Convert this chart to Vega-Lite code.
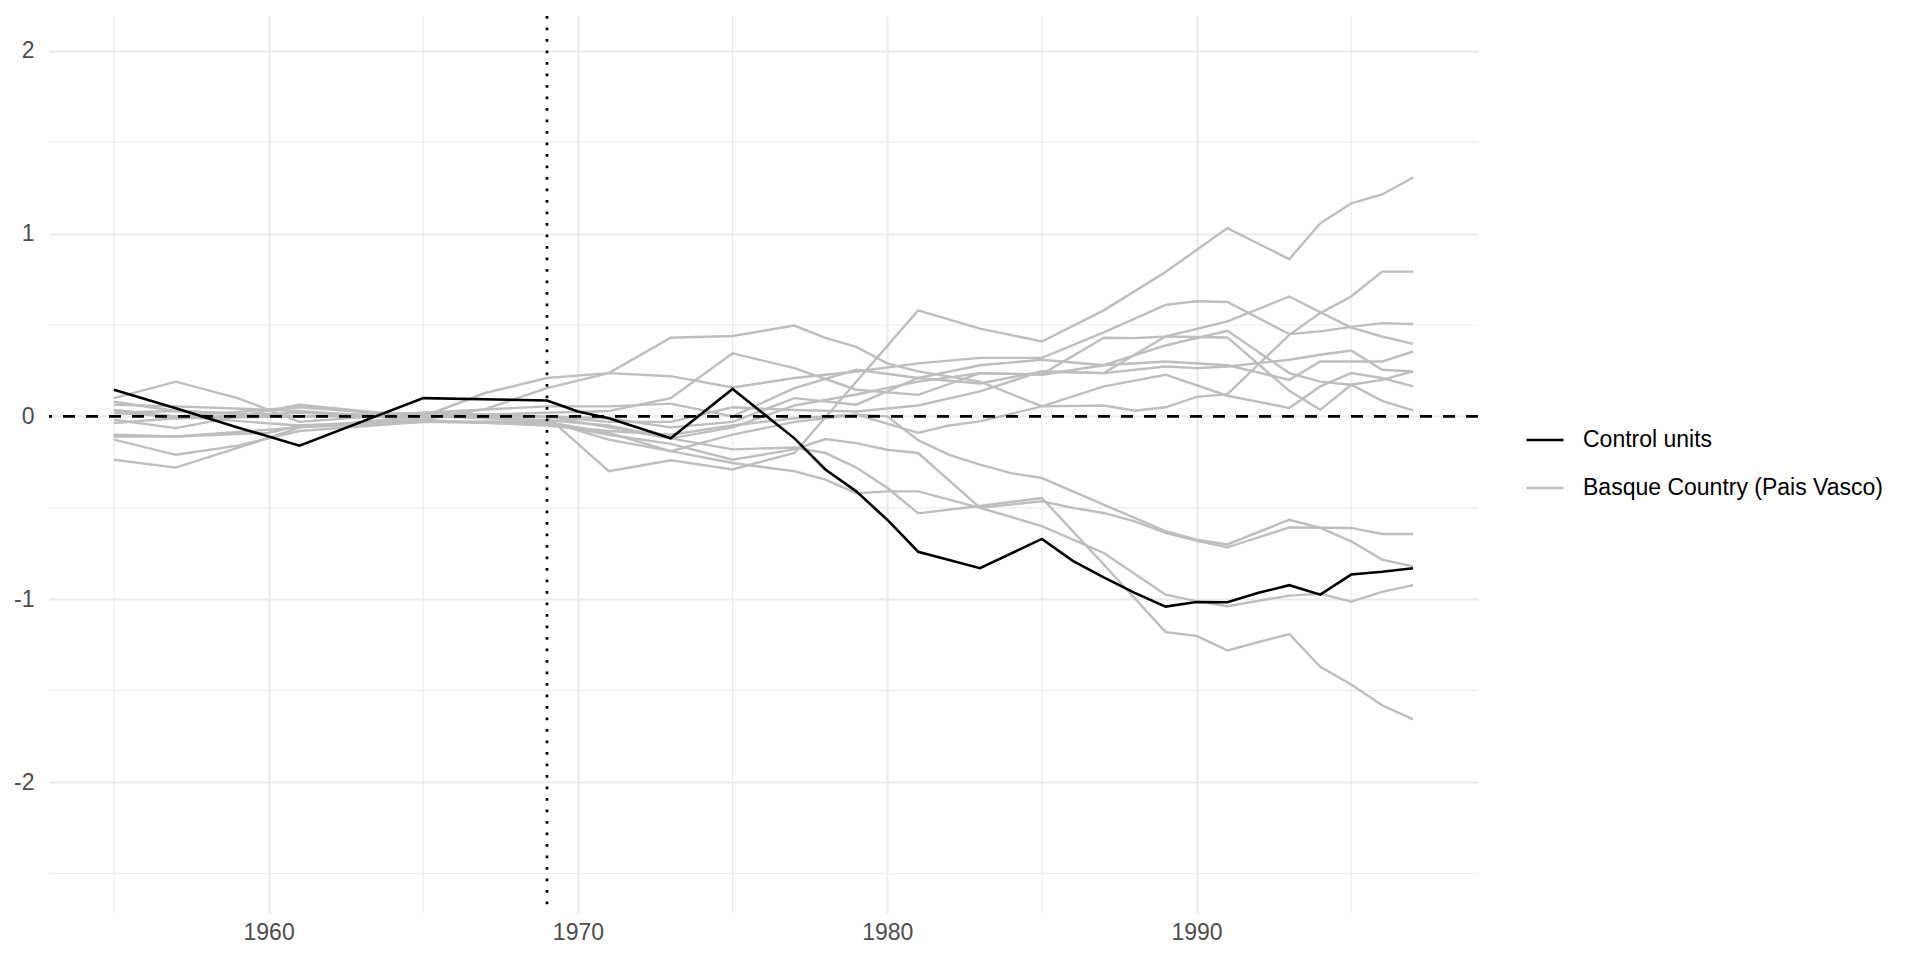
{
  "$schema": "https://vega.github.io/schema/vega-lite/v6.json",
  "width": 1429,
  "height": 897,
  "padding": {"left": 5, "top": 14, "right": 5, "bottom": 5},
  "background": "white",
  "config": {"view": {"stroke": null}, "font": "Liberation Sans"},
  "datasets": {
    "units": [
      {"unit": "Black", "group": "Control units"},
      {"unit": "A", "group": "Basque Country (Pais Vasco)"},
      {"unit": "U1", "group": "Basque Country (Pais Vasco)"},
      {"unit": "U2", "group": "Basque Country (Pais Vasco)"},
      {"unit": "U3", "group": "Basque Country (Pais Vasco)"},
      {"unit": "U4", "group": "Basque Country (Pais Vasco)"},
      {"unit": "U5", "group": "Basque Country (Pais Vasco)"},
      {"unit": "U6", "group": "Basque Country (Pais Vasco)"},
      {"unit": "U7", "group": "Basque Country (Pais Vasco)"},
      {"unit": "U8", "group": "Basque Country (Pais Vasco)"},
      {"unit": "X1", "group": "Basque Country (Pais Vasco)"},
      {"unit": "X2", "group": "Basque Country (Pais Vasco)"},
      {"unit": "X3", "group": "Basque Country (Pais Vasco)"},
      {"unit": "X4", "group": "Basque Country (Pais Vasco)"}
    ],
    "gridx": [{"year": 1955}, {"year": 1965}, {"year": 1975}, {"year": 1985}, {"year": 1995}],
    "gridy": [{"gap": -2.5}, {"gap": -1.5}, {"gap": -0.5}, {"gap": 0.5}, {"gap": 1.5}],
    "gaps": [
      {"unit": "A", "year": 1955, "gap": 0.02}, {"unit": "A", "year": 1957, "gap": 0.03}, {"unit": "A", "year": 1961, "gap": 0.0}, {"unit": "A", "year": 1965, "gap": 0.0}, {"unit": "A", "year": 1969, "gap": 0.0}, {"unit": "A", "year": 1971, "gap": -0.30}, {"unit": "A", "year": 1972, "gap": -0.27}, {"unit": "A", "year": 1973, "gap": -0.24}, {"unit": "A", "year": 1975, "gap": -0.29}, {"unit": "A", "year": 1977, "gap": -0.2}, {"unit": "A", "year": 1981, "gap": 0.58}, {"unit": "A", "year": 1983, "gap": 0.48}, {"unit": "A", "year": 1985, "gap": 0.41}, {"unit": "A", "year": 1987, "gap": 0.58}, {"unit": "A", "year": 1989, "gap": 0.79}, {"unit": "A", "year": 1991, "gap": 1.03}, {"unit": "A", "year": 1993, "gap": 0.86}, {"unit": "A", "year": 1994, "gap": 1.056}, {"unit": "A", "year": 1995, "gap": 1.165}, {"unit": "A", "year": 1996, "gap": 1.214}, {"unit": "A", "year": 1997, "gap": 1.307},
      {"unit": "U1", "year": 1955, "gap": 0.064}, {"unit": "U1", "year": 1957, "gap": 0.055}, {"unit": "U1", "year": 1961, "gap": 0.03}, {"unit": "U1", "year": 1965, "gap": -0.018}, {"unit": "U1", "year": 1967, "gap": 0.04}, {"unit": "U1", "year": 1969, "gap": 0.155}, {"unit": "U1", "year": 1971, "gap": 0.237}, {"unit": "U1", "year": 1973, "gap": 0.43}, {"unit": "U1", "year": 1975, "gap": 0.44}, {"unit": "U1", "year": 1977, "gap": 0.497}, {"unit": "U1", "year": 1978, "gap": 0.43}, {"unit": "U1", "year": 1979, "gap": 0.38}, {"unit": "U1", "year": 1980, "gap": 0.29}, {"unit": "U1", "year": 1981, "gap": 0.246}, {"unit": "U1", "year": 1983, "gap": 0.19}, {"unit": "U1", "year": 1985, "gap": 0.055}, {"unit": "U1", "year": 1987, "gap": 0.06}, {"unit": "U1", "year": 1988, "gap": 0.031}, {"unit": "U1", "year": 1989, "gap": 0.05}, {"unit": "U1", "year": 1990, "gap": 0.107}, {"unit": "U1", "year": 1991, "gap": 0.122}, {"unit": "U1", "year": 1993, "gap": 0.446}, {"unit": "U1", "year": 1994, "gap": 0.565}, {"unit": "U1", "year": 1995, "gap": 0.656}, {"unit": "U1", "year": 1996, "gap": 0.792}, {"unit": "U1", "year": 1997, "gap": 0.792},
      {"unit": "U2", "year": 1955, "gap": 0.036}, {"unit": "U2", "year": 1957, "gap": 0.0}, {"unit": "U2", "year": 1961, "gap": 0.05}, {"unit": "U2", "year": 1965, "gap": 0.0}, {"unit": "U2", "year": 1967, "gap": 0.128}, {"unit": "U2", "year": 1969, "gap": 0.21}, {"unit": "U2", "year": 1971, "gap": 0.237}, {"unit": "U2", "year": 1973, "gap": 0.22}, {"unit": "U2", "year": 1975, "gap": 0.158}, {"unit": "U2", "year": 1977, "gap": 0.21}, {"unit": "U2", "year": 1979, "gap": 0.246}, {"unit": "U2", "year": 1981, "gap": 0.29}, {"unit": "U2", "year": 1983, "gap": 0.32}, {"unit": "U2", "year": 1985, "gap": 0.32}, {"unit": "U2", "year": 1987, "gap": 0.46}, {"unit": "U2", "year": 1989, "gap": 0.61}, {"unit": "U2", "year": 1990, "gap": 0.63}, {"unit": "U2", "year": 1991, "gap": 0.626}, {"unit": "U2", "year": 1993, "gap": 0.45}, {"unit": "U2", "year": 1994, "gap": 0.465}, {"unit": "U2", "year": 1995, "gap": 0.49}, {"unit": "U2", "year": 1996, "gap": 0.51}, {"unit": "U2", "year": 1997, "gap": 0.505},
      {"unit": "U3", "year": 1955, "gap": -0.018}, {"unit": "U3", "year": 1957, "gap": -0.064}, {"unit": "U3", "year": 1961, "gap": 0.064}, {"unit": "U3", "year": 1963, "gap": 0.03}, {"unit": "U3", "year": 1965, "gap": 0.0}, {"unit": "U3", "year": 1969, "gap": 0.02}, {"unit": "U3", "year": 1971, "gap": 0.03}, {"unit": "U3", "year": 1973, "gap": 0.1}, {"unit": "U3", "year": 1975, "gap": 0.345}, {"unit": "U3", "year": 1977, "gap": 0.264}, {"unit": "U3", "year": 1979, "gap": 0.146}, {"unit": "U3", "year": 1981, "gap": 0.118}, {"unit": "U3", "year": 1983, "gap": 0.237}, {"unit": "U3", "year": 1985, "gap": 0.23}, {"unit": "U3", "year": 1987, "gap": 0.43}, {"unit": "U3", "year": 1988, "gap": 0.428}, {"unit": "U3", "year": 1989, "gap": 0.437}, {"unit": "U3", "year": 1991, "gap": 0.52}, {"unit": "U3", "year": 1993, "gap": 0.656}, {"unit": "U3", "year": 1994, "gap": 0.57}, {"unit": "U3", "year": 1995, "gap": 0.486}, {"unit": "U3", "year": 1996, "gap": 0.437}, {"unit": "U3", "year": 1997, "gap": 0.397},
      {"unit": "U4", "year": 1955, "gap": 0.08}, {"unit": "U4", "year": 1957, "gap": 0.03}, {"unit": "U4", "year": 1961, "gap": 0.0}, {"unit": "U4", "year": 1965, "gap": 0.02}, {"unit": "U4", "year": 1969, "gap": 0.055}, {"unit": "U4", "year": 1971, "gap": 0.055}, {"unit": "U4", "year": 1973, "gap": 0.07}, {"unit": "U4", "year": 1975, "gap": 0.0}, {"unit": "U4", "year": 1977, "gap": 0.155}, {"unit": "U4", "year": 1979, "gap": 0.255}, {"unit": "U4", "year": 1981, "gap": 0.21}, {"unit": "U4", "year": 1983, "gap": 0.28}, {"unit": "U4", "year": 1985, "gap": 0.31}, {"unit": "U4", "year": 1987, "gap": 0.28}, {"unit": "U4", "year": 1989, "gap": 0.388}, {"unit": "U4", "year": 1991, "gap": 0.468}, {"unit": "U4", "year": 1993, "gap": 0.237}, {"unit": "U4", "year": 1994, "gap": 0.19}, {"unit": "U4", "year": 1995, "gap": 0.173}, {"unit": "U4", "year": 1996, "gap": 0.2}, {"unit": "U4", "year": 1997, "gap": 0.246},
      {"unit": "U5", "year": 1955, "gap": 0.1}, {"unit": "U5", "year": 1957, "gap": 0.19}, {"unit": "U5", "year": 1959, "gap": 0.1}, {"unit": "U5", "year": 1960, "gap": 0.036}, {"unit": "U5", "year": 1961, "gap": -0.03}, {"unit": "U5", "year": 1965, "gap": 0.02}, {"unit": "U5", "year": 1969, "gap": 0.0}, {"unit": "U5", "year": 1971, "gap": -0.01}, {"unit": "U5", "year": 1973, "gap": -0.06}, {"unit": "U5", "year": 1975, "gap": -0.03}, {"unit": "U5", "year": 1977, "gap": 0.1}, {"unit": "U5", "year": 1979, "gap": 0.064}, {"unit": "U5", "year": 1981, "gap": 0.21}, {"unit": "U5", "year": 1983, "gap": 0.18}, {"unit": "U5", "year": 1985, "gap": 0.246}, {"unit": "U5", "year": 1987, "gap": 0.237}, {"unit": "U5", "year": 1989, "gap": 0.437}, {"unit": "U5", "year": 1991, "gap": 0.432}, {"unit": "U5", "year": 1993, "gap": 0.14}, {"unit": "U5", "year": 1994, "gap": 0.036}, {"unit": "U5", "year": 1995, "gap": 0.173}, {"unit": "U5", "year": 1996, "gap": 0.085}, {"unit": "U5", "year": 1997, "gap": 0.033},
      {"unit": "U6", "year": 1955, "gap": 0.036}, {"unit": "U6", "year": 1957, "gap": -0.01}, {"unit": "U6", "year": 1961, "gap": 0.02}, {"unit": "U6", "year": 1965, "gap": 0.0}, {"unit": "U6", "year": 1969, "gap": -0.02}, {"unit": "U6", "year": 1971, "gap": -0.05}, {"unit": "U6", "year": 1973, "gap": -0.12}, {"unit": "U6", "year": 1975, "gap": -0.06}, {"unit": "U6", "year": 1977, "gap": 0.06}, {"unit": "U6", "year": 1979, "gap": 0.12}, {"unit": "U6", "year": 1981, "gap": 0.19}, {"unit": "U6", "year": 1983, "gap": 0.237}, {"unit": "U6", "year": 1985, "gap": 0.228}, {"unit": "U6", "year": 1987, "gap": 0.28}, {"unit": "U6", "year": 1989, "gap": 0.30}, {"unit": "U6", "year": 1991, "gap": 0.28}, {"unit": "U6", "year": 1993, "gap": 0.2}, {"unit": "U6", "year": 1994, "gap": 0.3}, {"unit": "U6", "year": 1995, "gap": 0.3}, {"unit": "U6", "year": 1996, "gap": 0.3}, {"unit": "U6", "year": 1997, "gap": 0.355},
      {"unit": "U7", "year": 1955, "gap": -0.036}, {"unit": "U7", "year": 1957, "gap": -0.01}, {"unit": "U7", "year": 1961, "gap": 0.0}, {"unit": "U7", "year": 1965, "gap": 0.01}, {"unit": "U7", "year": 1969, "gap": 0.0}, {"unit": "U7", "year": 1971, "gap": -0.03}, {"unit": "U7", "year": 1973, "gap": -0.03}, {"unit": "U7", "year": 1975, "gap": 0.05}, {"unit": "U7", "year": 1977, "gap": 0.035}, {"unit": "U7", "year": 1979, "gap": 0.027}, {"unit": "U7", "year": 1981, "gap": 0.06}, {"unit": "U7", "year": 1983, "gap": 0.137}, {"unit": "U7", "year": 1985, "gap": 0.246}, {"unit": "U7", "year": 1987, "gap": 0.237}, {"unit": "U7", "year": 1989, "gap": 0.273}, {"unit": "U7", "year": 1990, "gap": 0.264}, {"unit": "U7", "year": 1991, "gap": 0.273}, {"unit": "U7", "year": 1993, "gap": 0.31}, {"unit": "U7", "year": 1994, "gap": 0.337}, {"unit": "U7", "year": 1995, "gap": 0.36}, {"unit": "U7", "year": 1996, "gap": 0.255}, {"unit": "U7", "year": 1997, "gap": 0.246},
      {"unit": "U8", "year": 1955, "gap": 0.018}, {"unit": "U8", "year": 1957, "gap": 0.0}, {"unit": "U8", "year": 1961, "gap": -0.05}, {"unit": "U8", "year": 1965, "gap": -0.03}, {"unit": "U8", "year": 1969, "gap": -0.03}, {"unit": "U8", "year": 1971, "gap": -0.09}, {"unit": "U8", "year": 1973, "gap": -0.19}, {"unit": "U8", "year": 1975, "gap": -0.1}, {"unit": "U8", "year": 1977, "gap": -0.03}, {"unit": "U8", "year": 1979, "gap": 0.01}, {"unit": "U8", "year": 1981, "gap": -0.09}, {"unit": "U8", "year": 1982, "gap": -0.05}, {"unit": "U8", "year": 1983, "gap": -0.027}, {"unit": "U8", "year": 1985, "gap": 0.055}, {"unit": "U8", "year": 1987, "gap": 0.164}, {"unit": "U8", "year": 1989, "gap": 0.228}, {"unit": "U8", "year": 1991, "gap": 0.113}, {"unit": "U8", "year": 1993, "gap": 0.046}, {"unit": "U8", "year": 1994, "gap": 0.164}, {"unit": "U8", "year": 1995, "gap": 0.237}, {"unit": "U8", "year": 1996, "gap": 0.21}, {"unit": "U8", "year": 1997, "gap": 0.164},
      {"unit": "X1", "year": 1955, "gap": -0.1}, {"unit": "X1", "year": 1957, "gap": -0.11}, {"unit": "X1", "year": 1960, "gap": -0.09}, {"unit": "X1", "year": 1961, "gap": -0.05}, {"unit": "X1", "year": 1965, "gap": -0.02}, {"unit": "X1", "year": 1969, "gap": -0.05}, {"unit": "X1", "year": 1971, "gap": -0.08}, {"unit": "X1", "year": 1973, "gap": -0.1}, {"unit": "X1", "year": 1975, "gap": -0.05}, {"unit": "X1", "year": 1977, "gap": -0.01}, {"unit": "X1", "year": 1979, "gap": 0.01}, {"unit": "X1", "year": 1980, "gap": 0.0}, {"unit": "X1", "year": 1981, "gap": -0.13}, {"unit": "X1", "year": 1982, "gap": -0.21}, {"unit": "X1", "year": 1983, "gap": -0.264}, {"unit": "X1", "year": 1984, "gap": -0.31}, {"unit": "X1", "year": 1985, "gap": -0.337}, {"unit": "X1", "year": 1986, "gap": -0.41}, {"unit": "X1", "year": 1987, "gap": -0.483}, {"unit": "X1", "year": 1988, "gap": -0.555}, {"unit": "X1", "year": 1989, "gap": -0.628}, {"unit": "X1", "year": 1990, "gap": -0.674}, {"unit": "X1", "year": 1991, "gap": -0.7}, {"unit": "X1", "year": 1993, "gap": -0.565}, {"unit": "X1", "year": 1994, "gap": -0.61}, {"unit": "X1", "year": 1995, "gap": -0.683}, {"unit": "X1", "year": 1996, "gap": -0.783}, {"unit": "X1", "year": 1997, "gap": -0.82},
      {"unit": "X2", "year": 1955, "gap": -0.127}, {"unit": "X2", "year": 1957, "gap": -0.21}, {"unit": "X2", "year": 1959, "gap": -0.16}, {"unit": "X2", "year": 1960, "gap": -0.118}, {"unit": "X2", "year": 1961, "gap": -0.06}, {"unit": "X2", "year": 1965, "gap": -0.03}, {"unit": "X2", "year": 1969, "gap": -0.04}, {"unit": "X2", "year": 1971, "gap": -0.1}, {"unit": "X2", "year": 1973, "gap": -0.15}, {"unit": "X2", "year": 1975, "gap": -0.237}, {"unit": "X2", "year": 1977, "gap": -0.18}, {"unit": "X2", "year": 1978, "gap": -0.124}, {"unit": "X2", "year": 1979, "gap": -0.146}, {"unit": "X2", "year": 1980, "gap": -0.182}, {"unit": "X2", "year": 1981, "gap": -0.2}, {"unit": "X2", "year": 1983, "gap": -0.5}, {"unit": "X2", "year": 1985, "gap": -0.464}, {"unit": "X2", "year": 1986, "gap": -0.5}, {"unit": "X2", "year": 1987, "gap": -0.528}, {"unit": "X2", "year": 1988, "gap": -0.574}, {"unit": "X2", "year": 1989, "gap": -0.637}, {"unit": "X2", "year": 1990, "gap": -0.68}, {"unit": "X2", "year": 1991, "gap": -0.716}, {"unit": "X2", "year": 1993, "gap": -0.607}, {"unit": "X2", "year": 1995, "gap": -0.61}, {"unit": "X2", "year": 1996, "gap": -0.643}, {"unit": "X2", "year": 1997, "gap": -0.643},
      {"unit": "X3", "year": 1955, "gap": -0.237}, {"unit": "X3", "year": 1957, "gap": -0.28}, {"unit": "X3", "year": 1960, "gap": -0.118}, {"unit": "X3", "year": 1961, "gap": -0.08}, {"unit": "X3", "year": 1965, "gap": -0.03}, {"unit": "X3", "year": 1969, "gap": -0.027}, {"unit": "X3", "year": 1971, "gap": -0.127}, {"unit": "X3", "year": 1973, "gap": -0.19}, {"unit": "X3", "year": 1975, "gap": -0.255}, {"unit": "X3", "year": 1977, "gap": -0.3}, {"unit": "X3", "year": 1978, "gap": -0.346}, {"unit": "X3", "year": 1979, "gap": -0.42}, {"unit": "X3", "year": 1980, "gap": -0.41}, {"unit": "X3", "year": 1981, "gap": -0.41}, {"unit": "X3", "year": 1983, "gap": -0.5}, {"unit": "X3", "year": 1985, "gap": -0.6}, {"unit": "X3", "year": 1987, "gap": -0.747}, {"unit": "X3", "year": 1989, "gap": -0.975}, {"unit": "X3", "year": 1990, "gap": -1.01}, {"unit": "X3", "year": 1991, "gap": -1.038}, {"unit": "X3", "year": 1993, "gap": -0.98}, {"unit": "X3", "year": 1994, "gap": -0.97}, {"unit": "X3", "year": 1995, "gap": -1.013}, {"unit": "X3", "year": 1996, "gap": -0.96}, {"unit": "X3", "year": 1997, "gap": -0.923},
      {"unit": "X4", "year": 1955, "gap": -0.11}, {"unit": "X4", "year": 1957, "gap": -0.11}, {"unit": "X4", "year": 1961, "gap": -0.06}, {"unit": "X4", "year": 1965, "gap": 0.0}, {"unit": "X4", "year": 1969, "gap": 0.0}, {"unit": "X4", "year": 1971, "gap": -0.06}, {"unit": "X4", "year": 1973, "gap": -0.12}, {"unit": "X4", "year": 1975, "gap": -0.18}, {"unit": "X4", "year": 1977, "gap": -0.17}, {"unit": "X4", "year": 1978, "gap": -0.2}, {"unit": "X4", "year": 1979, "gap": -0.28}, {"unit": "X4", "year": 1980, "gap": -0.39}, {"unit": "X4", "year": 1981, "gap": -0.53}, {"unit": "X4", "year": 1983, "gap": -0.49}, {"unit": "X4", "year": 1985, "gap": -0.446}, {"unit": "X4", "year": 1987, "gap": -0.81}, {"unit": "X4", "year": 1989, "gap": -1.18}, {"unit": "X4", "year": 1990, "gap": -1.2}, {"unit": "X4", "year": 1991, "gap": -1.28}, {"unit": "X4", "year": 1993, "gap": -1.19}, {"unit": "X4", "year": 1994, "gap": -1.37}, {"unit": "X4", "year": 1995, "gap": -1.466}, {"unit": "X4", "year": 1996, "gap": -1.58}, {"unit": "X4", "year": 1997, "gap": -1.657},
      {"unit": "Black", "year": 1955, "gap": 0.146}, {"unit": "Black", "year": 1957, "gap": 0.045}, {"unit": "Black", "year": 1959, "gap": -0.06}, {"unit": "Black", "year": 1961, "gap": -0.16}, {"unit": "Black", "year": 1965, "gap": 0.10}, {"unit": "Black", "year": 1969, "gap": 0.087}, {"unit": "Black", "year": 1970, "gap": 0.027}, {"unit": "Black", "year": 1971, "gap": -0.01}, {"unit": "Black", "year": 1973, "gap": -0.12}, {"unit": "Black", "year": 1975, "gap": 0.15}, {"unit": "Black", "year": 1977, "gap": -0.12}, {"unit": "Black", "year": 1978, "gap": -0.29}, {"unit": "Black", "year": 1979, "gap": -0.41}, {"unit": "Black", "year": 1980, "gap": -0.565}, {"unit": "Black", "year": 1981, "gap": -0.74}, {"unit": "Black", "year": 1983, "gap": -0.83}, {"unit": "Black", "year": 1985, "gap": -0.67}, {"unit": "Black", "year": 1986, "gap": -0.79}, {"unit": "Black", "year": 1987, "gap": -0.88}, {"unit": "Black", "year": 1988, "gap": -0.965}, {"unit": "Black", "year": 1989, "gap": -1.04}, {"unit": "Black", "year": 1990, "gap": -1.015}, {"unit": "Black", "year": 1991, "gap": -1.016}, {"unit": "Black", "year": 1992, "gap": -0.965}, {"unit": "Black", "year": 1993, "gap": -0.923}, {"unit": "Black", "year": 1994, "gap": -0.975}, {"unit": "Black", "year": 1995, "gap": -0.865}, {"unit": "Black", "year": 1996, "gap": -0.85}, {"unit": "Black", "year": 1997, "gap": -0.83}
    ]
  },
  "layer": [
    {
      "data": {"name": "gridx"},
      "mark": {"type": "rule", "color": "#EBEBEB", "strokeWidth": 1.1},
      "encoding": {
        "x": {"field": "year", "type": "quantitative", "title": null, "scale": {"domain": [1952.9, 1999.1], "nice": false, "zero": false},
              "axis": {"values": [1960, 1970, 1980, 1990], "format": "d", "title": null, "grid": true, "gridColor": "#EBEBEB", "gridWidth": 2.2, "domain": false, "ticks": false, "tickSize": 0, "labelPadding": 8, "labelFontSize": 23, "labelColor": "#4D4D4D", "labelFont": "Liberation Sans"}}
      }
    },
    {
      "data": {"name": "gridy"},
      "mark": {"type": "rule", "color": "#EBEBEB", "strokeWidth": 1.1},
      "encoding": {
        "y": {"field": "gap", "type": "quantitative", "title": null, "scale": {"domain": [-2.716, 2.19], "nice": false, "zero": false},
              "axis": {"values": [-2, -1, 0, 1, 2], "title": null, "grid": true, "gridColor": "#EBEBEB", "gridWidth": 2.2, "domain": false, "ticks": false, "tickSize": 0, "labelPadding": 15, "labelFontSize": 23, "labelColor": "#4D4D4D", "labelFont": "Liberation Sans", "minExtent": 44, "maxExtent": 44, "labelExpr": "datum.value < 0 ? '-' + abs(datum.value) : '' + datum.value"}}
      }
    },
    {
      "data": {"name": "gaps"},
      "transform": [
        {"lookup": "unit", "from": {"data": {"name": "units"}, "key": "unit", "fields": ["group"]}},
        {"filter": "datum.group !== 'Control units'"}
      ],
      "mark": {"type": "line", "strokeWidth": 2.4},
      "encoding": {
        "x": {"field": "year", "type": "quantitative", "title": null, "scale": {"domain": [1952.9, 1999.1], "nice": false, "zero": false},
              "axis": {"values": [1960, 1970, 1980, 1990], "format": "d", "title": null, "grid": true, "gridColor": "#EBEBEB", "gridWidth": 2.2, "domain": false, "ticks": false, "tickSize": 0, "labelPadding": 8, "labelFontSize": 23, "labelColor": "#4D4D4D", "labelFont": "Liberation Sans"}},
        "y": {"field": "gap", "type": "quantitative", "title": null, "scale": {"domain": [-2.716, 2.19], "nice": false, "zero": false},
              "axis": {"values": [-2, -1, 0, 1, 2], "title": null, "grid": true, "gridColor": "#EBEBEB", "gridWidth": 2.2, "domain": false, "ticks": false, "tickSize": 0, "labelPadding": 15, "labelFontSize": 23, "labelColor": "#4D4D4D", "labelFont": "Liberation Sans", "minExtent": 44, "maxExtent": 44, "labelExpr": "datum.value < 0 ? '-' + abs(datum.value) : '' + datum.value"}},
        "detail": {"field": "unit"},
        "color": {"field": "group", "type": "nominal",
                  "scale": {"domain": ["Control units", "Basque Country (Pais Vasco)"], "range": ["#000000", "#BEBEBE"]},
                  "legend": {"title": null, "orient": "none", "legendX": 1476, "legendY": 404, "symbolType": "stroke", "symbolSize": 1369, "symbolStrokeWidth": 2.5, "labelFontSize": 23, "labelFont": "Liberation Sans", "labelColor": "#000000", "labelOffset": 18, "labelLimit": 0, "rowPadding": 16}}
      }
    },
    {
      "data": {"name": "gaps"},
      "transform": [
        {"lookup": "unit", "from": {"data": {"name": "units"}, "key": "unit", "fields": ["group"]}},
        {"filter": "datum.group === 'Control units'"}
      ],
      "mark": {"type": "line", "strokeWidth": 2.6},
      "encoding": {
        "x": {"field": "year", "type": "quantitative", "title": null, "scale": {"domain": [1952.9, 1999.1], "nice": false, "zero": false},
              "axis": {"values": [1960, 1970, 1980, 1990], "format": "d", "title": null, "grid": true, "gridColor": "#EBEBEB", "gridWidth": 2.2, "domain": false, "ticks": false, "tickSize": 0, "labelPadding": 8, "labelFontSize": 23, "labelColor": "#4D4D4D", "labelFont": "Liberation Sans"}},
        "y": {"field": "gap", "type": "quantitative", "title": null, "scale": {"domain": [-2.716, 2.19], "nice": false, "zero": false},
              "axis": {"values": [-2, -1, 0, 1, 2], "title": null, "grid": true, "gridColor": "#EBEBEB", "gridWidth": 2.2, "domain": false, "ticks": false, "tickSize": 0, "labelPadding": 15, "labelFontSize": 23, "labelColor": "#4D4D4D", "labelFont": "Liberation Sans", "minExtent": 44, "maxExtent": 44, "labelExpr": "datum.value < 0 ? '-' + abs(datum.value) : '' + datum.value"}},
        "detail": {"field": "unit"},
        "color": {"field": "group", "type": "nominal",
                  "scale": {"domain": ["Control units", "Basque Country (Pais Vasco)"], "range": ["#000000", "#BEBEBE"]},
                  "legend": {"title": null, "orient": "none", "legendX": 1476, "legendY": 404, "symbolType": "stroke", "symbolSize": 1369, "symbolStrokeWidth": 2.5, "labelFontSize": 23, "labelFont": "Liberation Sans", "labelColor": "#000000", "labelOffset": 18, "labelLimit": 0, "rowPadding": 16}}
      }
    },
    {
      "data": {"values": [{"gap": 0}]},
      "mark": {"type": "rule", "color": "#000000", "strokeWidth": 2.6, "strokeDash": [12, 11]},
      "encoding": {
        "y": {"field": "gap", "type": "quantitative", "title": null, "scale": {"domain": [-2.716, 2.19], "nice": false, "zero": false},
              "axis": {"values": [-2, -1, 0, 1, 2], "title": null, "grid": true, "gridColor": "#EBEBEB", "gridWidth": 2.2, "domain": false, "ticks": false, "tickSize": 0, "labelPadding": 15, "labelFontSize": 23, "labelColor": "#4D4D4D", "labelFont": "Liberation Sans", "minExtent": 44, "maxExtent": 44, "labelExpr": "datum.value < 0 ? '-' + abs(datum.value) : '' + datum.value"}}
      }
    },
    {
      "data": {"values": [{"year": 1969}]},
      "mark": {"type": "rule", "color": "#000000", "strokeWidth": 2.7, "strokeDash": [2.7, 8.8]},
      "encoding": {
        "x": {"field": "year", "type": "quantitative", "title": null, "scale": {"domain": [1952.9, 1999.1], "nice": false, "zero": false},
              "axis": {"values": [1960, 1970, 1980, 1990], "format": "d", "title": null, "grid": true, "gridColor": "#EBEBEB", "gridWidth": 2.2, "domain": false, "ticks": false, "tickSize": 0, "labelPadding": 8, "labelFontSize": 23, "labelColor": "#4D4D4D", "labelFont": "Liberation Sans"}}
      }
    }
  ]
}
